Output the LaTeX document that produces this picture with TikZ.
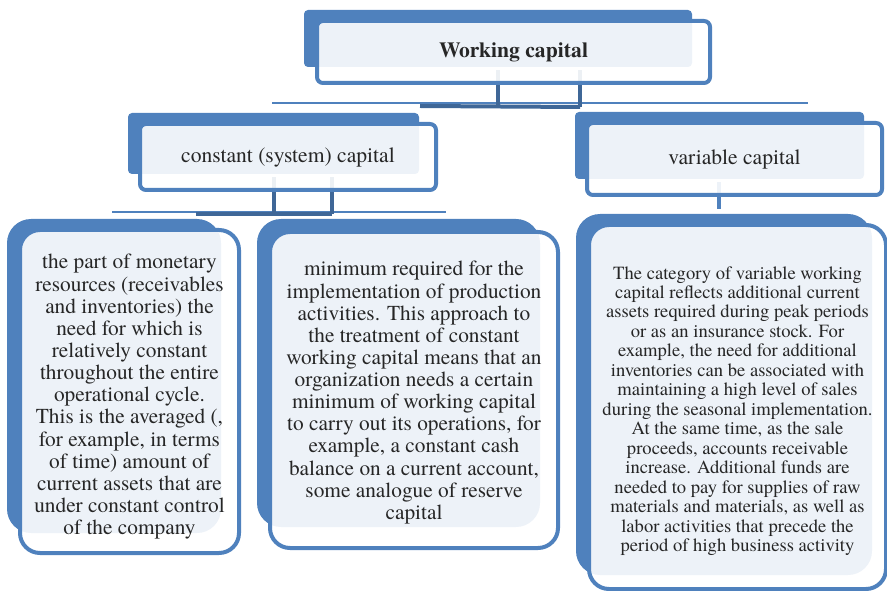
\documentclass[tikz,border=0pt]{standalone}
\usepackage{fontspec}
\setmainfont{texgyretermes}[Extension=.otf,UprightFont=*-regular,BoldFont=*-bold,
  ItalicFont=*-italic,BoldItalicFont=*-bolditalic]
\usepackage{xcolor}
\definecolor{boxblue}{HTML}{4F81BD}
\definecolor{linkblue}{HTML}{3F6797}

\begin{document}
\begin{tikzpicture}[x=0.75pt,y=-0.75pt,
  backbox/.style={fill=boxblue,rounded corners=#1},
  capbox/.style={draw=boxblue,line width=3pt,fill=white,fill opacity=0.9,text opacity=1,
    rounded corners=#1,inner sep=0pt,align=center,text=black!85},
  boxtext/.style={inner sep=0pt,align=center,text=black!85},
  link/.style={linkblue,line width=3pt},
  thinlink/.style={boxblue,line width=1.8pt},
  headtext/.style={font=\fontsize{16.2}{19}\selectfont},
  bodytext/.style={font=\fontsize{16}{16.6}\selectfont},
  smalltext/.style={font=\fontsize{13.95}{14.6}\selectfont}]
\clip (0,0) rectangle (887,591);
%\draw[help lines,step=50] (0,0) grid (887,591);
% shaded backs of the boxes
\fill[backbox=3pt] (304,10) rectangle (692,67);
\fill[backbox=3pt] (128,113) rectangle (419,174);
\fill[backbox=3pt] (575,112) rectangle (864,179);
\fill[backbox=18pt] (7,219) rectangle (221,533);
\fill[backbox=18pt] (257,219) rectangle (540,527);
\fill[backbox=18pt] (576,214) rectangle (872,575);
% connector points
\draw (498,70)coordinate(wca)
      (580,70)coordinate(wcb)
      (498,107)coordinate(wcc)
      (580,107)coordinate(wcd)
      (272,103)coordinate(ha)
      (808,103)coordinate(hb)
      (420,106)coordinate(hc)
      (274,177)coordinate(csa)
      (332,177)coordinate(csb)
      (274,214)coordinate(csc)
      (332,214)coordinate(csd)
      (112,212)coordinate(hd)
      (446,212)coordinate(he)
      (196,214)coordinate(hf)
      (719,182)coordinate(vca)
      (719,209)coordinate(vcb);
\draw[thinlink](ha)--(hb);
\draw[link](hc)--(wcd);
\draw[link](wca)--(wcc);
\draw[link](wcb)--(wcd);
\draw[thinlink](hd)--(he);
\draw[link](hf)--(csd);
\draw[link](csa)--(csc);
\draw[link](csb)--(csd);
\draw[link,boxblue](vca)--(vcb);
% boxes with text
\node[capbox=4.5pt,headtext,minimum width=294.75pt,minimum height=46.5pt] (wc) at (513.5,52) {\textbf{Working capital}};
\node[capbox=4.5pt,headtext,minimum width=222pt,minimum height=49.5pt] (cs) at (288,157) {constant (system) capital};
\node[capbox=4.5pt,headtext,minimum width=221.25pt,minimum height=54pt] (vc) at (734.5,159) {variable capital};
\node[capbox=15pt,minimum width=164.25pt,minimum height=242.25pt] (part) at (129.5,391.5) {};
\node[capbox=15pt,minimum width=216pt,minimum height=237pt] (minr) at (414,390) {};
\node[capbox=15pt,minimum width=222.75pt,minimum height=273pt] (cat) at (737.5,407) {};
\node[boxtext,bodytext] (parttext) at ([yshift=-4pt]part.center) {the part of monetary\\ resources (receivables\\ and inventories) the\\ need for which is\\ relatively constant\\ throughout the entire\\ operational cycle.\\ This is the averaged (,\\ for example, in terms\\ of time) amount of\\ current assets that are\\ under constant control\\ of the company};
\node[boxtext,bodytext] (minrtext) at ([yshift=-2pt]minr.center) {minimum required for the\\ implementation of production\\ activities. This approach to\\ the treatment of constant\\ working capital means that an\\ organization needs a certain\\ minimum of working capital\\ to carry out its operations, for\\ example, a constant cash\\ balance on a current account,\\ some analogue of reserve\\ capital};
\node[boxtext,smalltext] (cattext) at ([yshift=-3pt]cat.center) {The category of variable working\\ capital reflects additional current\\ assets required during peak periods\\ or as an insurance stock. For\\ example, the need for additional\\ inventories can be associated with\\ maintaining a high level of sales\\ during the seasonal implementation.\\ At the same time, as the sale\\ proceeds, accounts receivable\\ increase. Additional funds are\\ needed to pay for supplies of raw\\ materials and materials, as well as\\ labor activities that precede the\\ period of high business activity};
\end{tikzpicture}
\end{document}
